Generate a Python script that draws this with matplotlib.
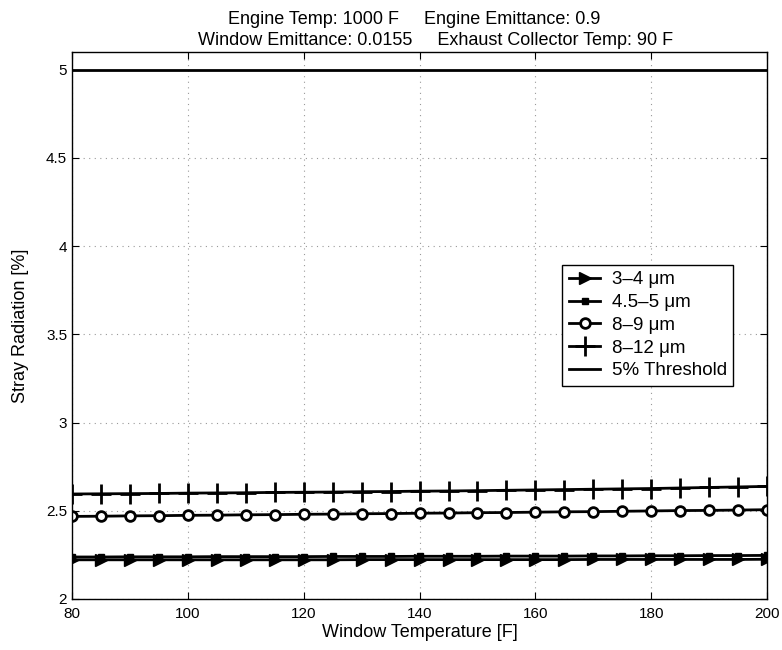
import matplotlib
matplotlib.use("Agg")
import matplotlib.pyplot as plt
import numpy as np

plt.rcParams['font.family'] = ['Liberation Sans', 'DejaVu Sans']

temps = [80, 85, 90, 95, 100, 105, 110, 115, 120, 125, 130, 135, 140, 145, 150,
         155, 160, 165, 170, 175, 180, 185, 190, 195, 200]
s_3_4 = [2.222, 2.222, 2.222, 2.222, 2.222, 2.222, 2.222, 2.222, 2.222, 2.222,
         2.223, 2.223, 2.223, 2.223, 2.223, 2.223, 2.223, 2.223, 2.224, 2.224,
         2.224, 2.224, 2.224, 2.224, 2.225]
s_45_5 = [2.238, 2.238, 2.239, 2.239, 2.239, 2.240, 2.240, 2.240, 2.240, 2.241,
          2.241, 2.241, 2.242, 2.242, 2.242, 2.243, 2.243, 2.243, 2.244, 2.244,
          2.245, 2.245, 2.246, 2.246, 2.247]
s_8_9 = [2.468, 2.469, 2.471, 2.472, 2.474, 2.475, 2.477, 2.478, 2.480, 2.481,
         2.483, 2.484, 2.486, 2.487, 2.489, 2.490, 2.492, 2.494, 2.495, 2.497,
         2.499, 2.501, 2.502, 2.504, 2.506]
s_8_12 = [2.595, 2.596, 2.597, 2.598, 2.600, 2.601, 2.602, 2.604, 2.605, 2.606,
          2.608, 2.609, 2.611, 2.612, 2.614, 2.616, 2.618, 2.620, 2.622, 2.624,
          2.626, 2.629, 2.632, 2.635, 2.638]
threshold = [5.0] * len(temps)

xticks = [80, 100, 120, 140, 160, 180, 200]
yticks = [2, 2.5, 3, 3.5, 4, 4.5, 5]
ytick_labels = ['2', '2.5', '3', '3.5', '4', '4.5', '5']

fig = plt.figure(figsize=(7.82, 6.5), dpi=100)
ax = fig.add_axes([0.092, 0.0785, 0.889, 0.8415])

lw = 2.0
ax.plot(temps, s_3_4, color='black', lw=lw, marker='>', ms=8, mfc='black', mec='black', label='3–4 μm')
ax.plot(temps, s_45_5, color='black', lw=lw, marker='s', ms=5, mfc='black', mec='black', label='4.5–5 μm')
ax.plot(temps, s_8_9, color='black', lw=lw, marker='o', ms=7, mfc='white', mew=2, mec='black', label='8–9 μm')
ax.plot(temps, s_8_12, color='black', lw=lw, marker='+', ms=14, mew=2, label='8–12 μm')
ax.plot(temps, threshold, color='black', lw=lw, label='5% Threshold')

ax.set_xlim(80, 200)
ax.set_ylim(2, 5.1)
ax.set_xticks(xticks)
ax.set_yticks(yticks)
ax.set_yticklabels(ytick_labels)
ax.grid(True, linestyle=(0, (1, 4)), color='#999999', lw=0.8)
ax.tick_params(direction='in', top=True, right=True, labelsize=11, length=5)
ax.tick_params(axis='x', pad=6)
for sp in ax.spines.values():
    sp.set_linewidth(1.0)

ax.set_xlabel('Window Temperature [F]', fontsize=13, labelpad=2)
ax.set_ylabel('Stray Radiation [%]', fontsize=13, labelpad=12)

fig.text(228 / 782, 1 - 24 / 650, 'Engine Temp: 1000 F     Engine Emittance: 0.9',
         ha='left', va='baseline', fontsize=13)
fig.text(198 / 782, 1 - 45 / 650, 'Window Emittance: 0.0155     Exhaust Collector Temp: 90 F',
         ha='left', va='baseline', fontsize=13)

leg = ax.legend(loc='upper left', bbox_to_anchor=(0.705, 0.611), fontsize=13.5,
                frameon=True, fancybox=False, edgecolor='black', framealpha=1,
                borderpad=0.35, labelspacing=0.3, handlelength=1.7, handletextpad=0.6,
                borderaxespad=0)
leg.get_frame().set_linewidth(1.0)

fig.savefig('out.png', dpi=100)
